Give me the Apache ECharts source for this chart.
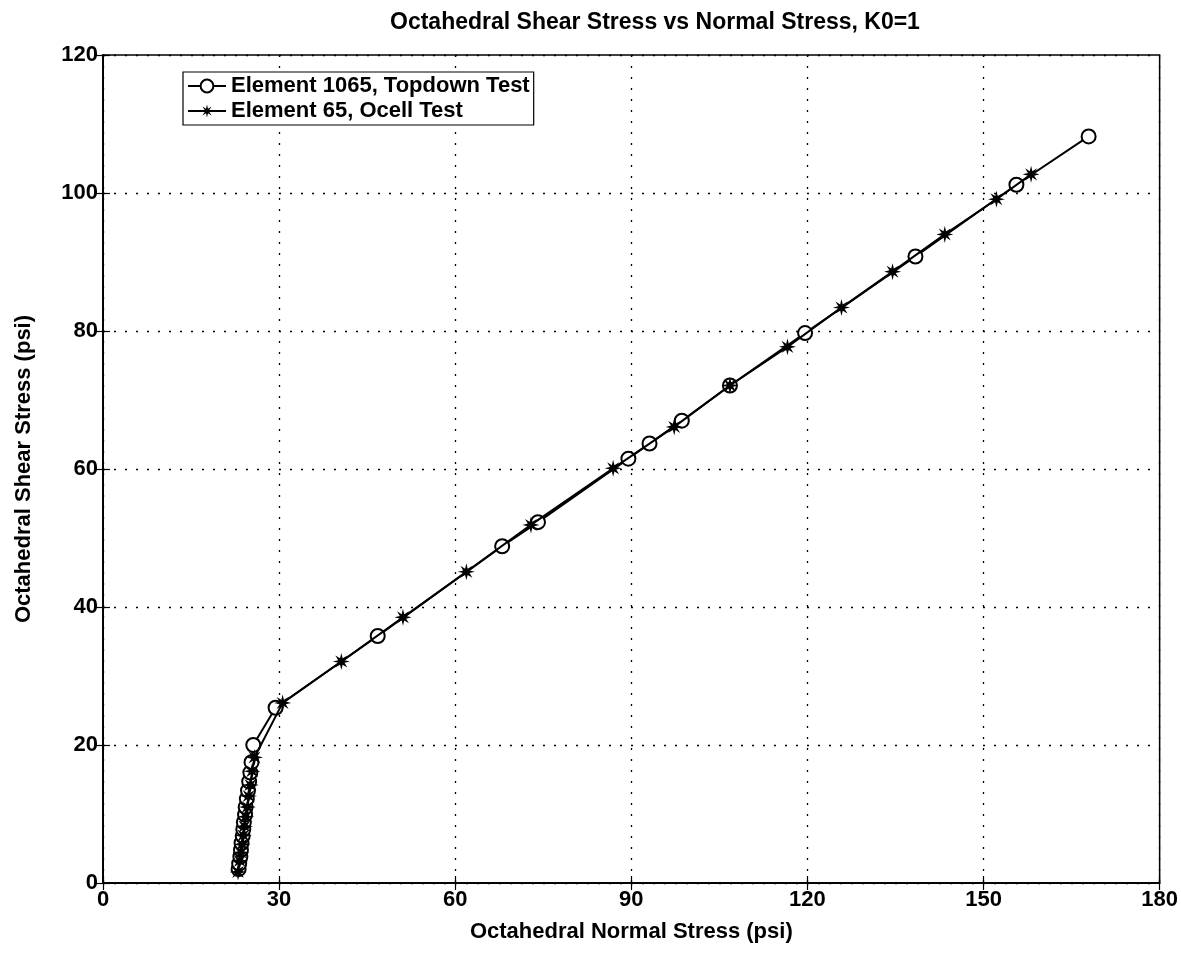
<!DOCTYPE html>
<html><head><meta charset="utf-8">
<script src="https://cdn.jsdelivr.net/npm/echarts@6/dist/echarts.min.js"></script>
<style>html,body{margin:0;padding:0;background:#fff}#c{width:1181px;height:960px}</style>
</head><body><div id="c"></div>
<script>
// Element 1065, Topdown Test (circles)
const topdownX = [23.1,23.2,23.4,23.5,23.6,23.8,23.9,24.0,24.2,24.3,24.5,24.7,24.9,25.1,25.3,25.6,29.4,46.8,68.0,74.1,89.5,93.1,98.6,106.8,119.6,138.4,155.6,167.9];
const topdownY = [2.0,2.8,3.8,4.8,5.8,6.8,7.8,8.8,9.9,11.0,12.2,13.4,14.7,16.0,17.5,20.0,25.4,35.8,48.8,52.3,61.5,63.7,67.0,72.1,79.7,90.8,101.2,108.2];
// Element 65, Ocell Test (stars)
const ocellX = [23.0,23.3,23.5,23.7,23.9,24.1,24.3,24.6,24.8,25.1,25.4,25.8,30.6,40.6,51.1,61.9,72.9,86.9,97.3,106.8,116.6,125.8,134.5,143.4,152.2,158.1];
const ocellY = [1.6,3.2,4.4,5.6,6.9,8.2,9.6,11.0,12.6,14.2,16.2,18.2,26.1,32.1,38.5,45.1,51.9,60.1,66.1,72.1,77.7,83.4,88.6,94.0,99.1,102.7];
const seriesNames = ['Element 1065, Topdown Test','Element 65, Ocell Test'];
const xTicks = [0,30,60,90,120,150,180];
const yTicks = [0,20,40,60,80,100,120];

function zip(a,b){return a.map((v,i)=>[v,b[i]]);}
function starPath(){
  const pts=[];const R=10,r=4;
  for(let i=0;i<16;i++){
    const ang=Math.PI/2+i*Math.PI/8;const rad=i%2===0?R:r;
    pts.push((rad*Math.cos(ang)).toFixed(3)+','+(-rad*Math.sin(ang)).toFixed(3));
  }
  return 'path://M'+pts.join('L')+'Z';
}
const STAR = starPath();
const FONT='"Liberation Sans", Arial, sans-serif';
const chart = echarts.init(document.getElementById('c'));
const axisCommon = {
  axisLine:{show:true,lineStyle:{color:'#000',width:1.5}},
  axisTick:{show:true,inside:true,length:7,lineStyle:{color:'#000',width:1.2}},
};
chart.setOption({
  animation:false,
  backgroundColor:'#fff',
  title:{text:'Octahedral Shear Stress vs Normal Stress, K0=1',left:385,top:6,
    textStyle:{fontFamily:FONT,fontSize:23,fontWeight:'bold',color:'#000'}},
  legend:{
    data:[{name:seriesNames[0]},{name:seriesNames[1]}],orient:'vertical',left:183,top:72,
    backgroundColor:'#fff',borderColor:'#000',borderWidth:1.2,padding:[3,4,3,4],
    itemGap:3,itemWidth:38,itemHeight:16,
    textStyle:{fontFamily:FONT,fontSize:22,fontWeight:'bold',color:'#000'}
  },
  grid:{left:103,right:21,top:55,height:828,show:true,borderColor:'#000',borderWidth:1.5,backgroundColor:'transparent'},
  xAxis:[{
    type:'value',min:0,max:180,interval:30,position:'bottom',
    name:'Octahedral Normal Stress (psi)',nameLocation:'middle',nameGap:38,
    nameTextStyle:{fontFamily:FONT,fontSize:22,fontWeight:'bold',color:'#000'},
    axisLabel:{fontFamily:FONT,fontSize:22,fontWeight:'bold',color:'#000',margin:6,
      formatter:v=>xTicks.includes(v)?String(v):''},
    splitLine:{show:true,lineStyle:{color:'#000',type:[2,9],width:1.3}},
    ...axisCommon
  },{
    type:'value',min:0,max:180,interval:30,position:'top',
    axisLabel:{show:false},splitLine:{show:false},...axisCommon
  }],
  yAxis:[{
    type:'value',min:0,max:120,interval:20,position:'left',
    name:'Octahedral Shear Stress (psi)',nameLocation:'middle',nameGap:68,nameRotate:90,
    nameTextStyle:{fontFamily:FONT,fontSize:22,fontWeight:'bold',color:'#000'},
    axisLabel:{fontFamily:FONT,fontSize:22,fontWeight:'bold',color:'#000',margin:5,
      formatter:v=>yTicks.includes(v)?String(v):''},
    splitLine:{show:true,lineStyle:{color:'#000',type:[2,9],width:1.3}},
    ...axisCommon
  },{
    type:'value',min:0,max:120,interval:20,position:'right',
    axisLabel:{show:false},splitLine:{show:false},...axisCommon
  }],
  series:[{
    name:seriesNames[0],type:'line',data:zip(topdownX,topdownY),
    symbol:'emptyCircle',symbolSize:14,showAllSymbol:true,
    lineStyle:{color:'#000',width:2},
    itemStyle:{color:'#000',borderColor:'#000',borderWidth:1.8},
    z:3
  },{
    name:seriesNames[1],type:'line',data:zip(ocellX,ocellY),
    symbol:STAR,symbolSize:17,showAllSymbol:true,
    lineStyle:{color:'#000',width:2},
    itemStyle:{color:'#000',borderColor:'#000',borderWidth:0},
    z:4
  }]
});
</script></body></html>
